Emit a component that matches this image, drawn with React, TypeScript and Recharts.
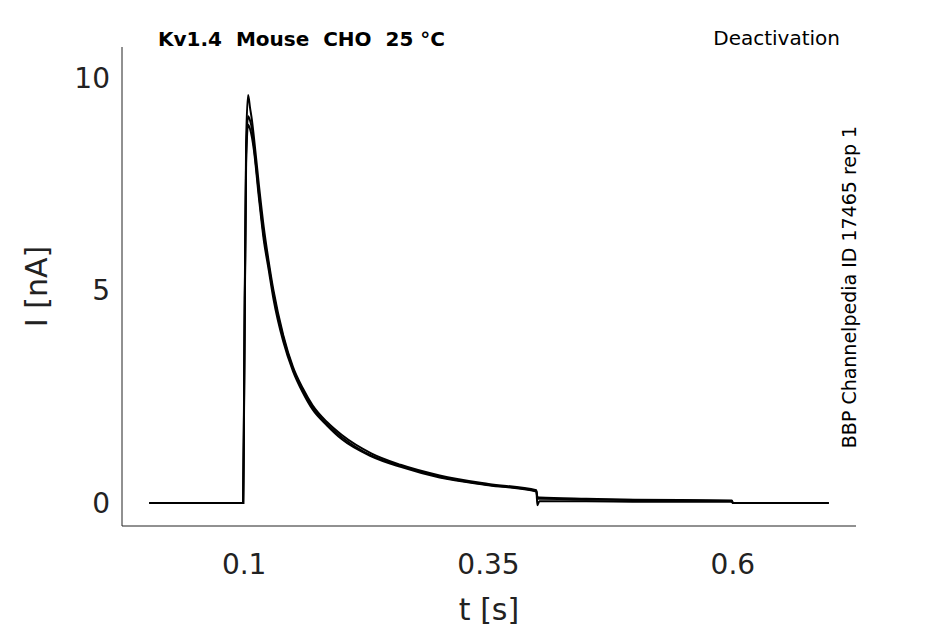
import { LineChart, Line, XAxis, YAxis, Label } from "recharts";

const times = [0.003, 0.099, 0.1, 0.102, 0.104, 0.106, 0.108, 0.11, 0.115, 0.12, 0.125, 0.13, 0.14, 0.15, 0.16, 0.17, 0.185, 0.2, 0.23, 0.26, 0.3, 0.35, 0.399, 0.4, 0.402, 0.45, 0.5, 0.599, 0.6, 0.698];
const sweepA = [0, 0, 3, 8.5, 9.6, 9.3, 9.0, 8.6, 7.5, 6.5, 5.7, 5.0, 3.95, 3.2, 2.7, 2.3, 1.9, 1.6, 1.17, 0.9, 0.65, 0.45, 0.3, 0.1, 0.1, 0.08, 0.07, 0.05, 0, 0];
const sweepB = [0, 0, 2.8, 8.2, 9.1, 9.0, 8.8, 8.4, 7.3, 6.3, 5.6, 4.9, 3.9, 3.15, 2.65, 2.25, 1.85, 1.55, 1.12, 0.88, 0.62, 0.43, 0.28, -0.05, 0.04, 0.04, 0.03, 0.03, 0, 0];
const sweepC = [0, 0, 2.6, 8.0, 8.9, 8.8, 8.6, 8.3, 7.2, 6.2, 5.5, 4.8, 3.8, 3.1, 2.6, 2.2, 1.82, 1.5, 1.1, 0.85, 0.6, 0.42, 0.27, 0.15, 0.13, 0.1, 0.08, 0.06, 0, 0];
const xTicks = [0.1, 0.35, 0.6];
const yTicks = [0, 5, 10];

const sweeps = [sweepA, sweepB, sweepC].map((s) => times.map((t, i) => ({ t, i: s[i] })));
const font = "DejaVu Sans, sans-serif";

export default function App() {
  return (
    <div style={{ position: "absolute", left: 0, top: 0, width: 945, height: 624, background: "#fff", fontFamily: font }}>
      <LineChart width={945} height={624} margin={{ top: 47, right: 89, bottom: 0, left: 0 }}>
        <XAxis
          type="number"
          dataKey="t"
          domain={[-0.025, 0.726]}
          ticks={xTicks}
          height={98}
          tickLine={false}
          axisLine={{ stroke: "#222" }}
          tick={{ fontSize: 28, fill: "#222", fontFamily: font, dy: 20 }}
          allowDuplicatedCategory={false}
        >
          <Label value="t [s]" position="insideBottom" offset={4} style={{ fontSize: 30, fill: "#222", fontFamily: font }} />
        </XAxis>
        <YAxis
          type="number"
          dataKey="i"
          domain={[-0.54, 10.73]}
          ticks={yTicks}
          width={122}
          tickLine={false}
          axisLine={{ stroke: "#222" }}
          tick={{ fontSize: 28, fill: "#222", fontFamily: font, dx: -4 }}
        >
          <Label value="I [nA]" angle={-90} position="insideLeft" offset={36} style={{ fontSize: 30, fill: "#222", fontFamily: font, textAnchor: "middle" }} />
        </YAxis>
        {sweeps.map((d, k) => (
          <Line key={k} data={d} dataKey="i" type="monotone" stroke="#000" strokeWidth={2} dot={false} isAnimationActive={false} />
        ))}
      </LineChart>
      <div style={{ position: "absolute", left: 158, top: 27, fontSize: 20, fontWeight: "bold", whiteSpace: "pre" }}>
        {"Kv1.4  Mouse  CHO  25 °C"}
      </div>
      <div style={{ position: "absolute", right: 105, top: 26, fontSize: 20 }}>Deactivation</div>
      <div
        style={{
          position: "absolute",
          left: 849,
          top: 287,
          fontSize: 19,
          whiteSpace: "nowrap",
          transform: "translate(-50%, -50%) rotate(-90deg)",
        }}
      >
        BBP Channelpedia ID 17465 rep 1
      </div>
    </div>
  );
}
